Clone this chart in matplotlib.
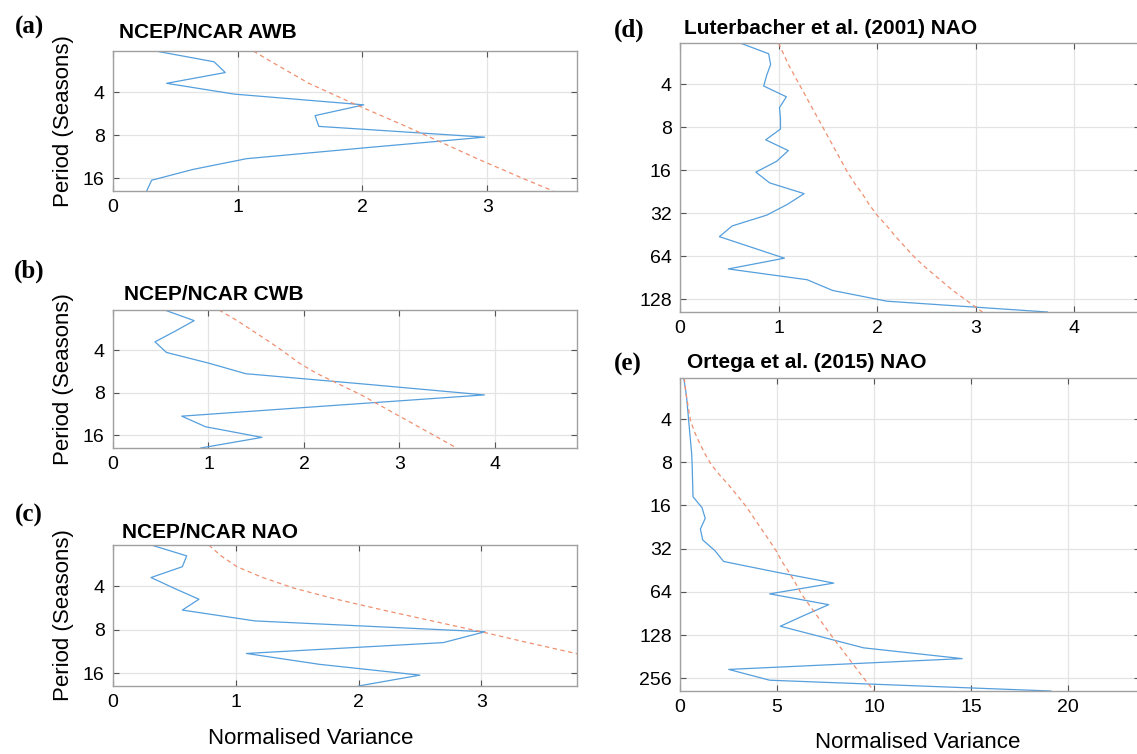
import matplotlib
matplotlib.use("Agg")
import matplotlib.pyplot as plt
from matplotlib.ticker import NullLocator

plt.rcParams['font.family'] = ['Liberation Sans', 'DejaVu Sans']

W, H = 1137, 754

# Fourier periods (seasons) of the wavelet scales, quarter-octave spacing
periods = [2.066, 2.457, 2.922, 3.475, 4.132, 4.914, 5.844, 6.950, 8.264, 9.828,
           11.69, 13.90, 16.53, 19.66, 23.38, 27.80, 33.06, 39.31, 46.75, 55.60,
           66.12, 78.63, 93.51, 111.2, 132.2, 157.3, 187.0, 222.4, 264.5, 314.5]

# global wavelet power (blue) and 95% significance level (red dashed)
awb_power = [0.34, 0.81, 0.90, 0.43, 0.97, 2.01, 1.62, 1.65, 2.98, 2.01, 1.07, 0.64, 0.31, 0.27]
awb_signif = [1.125, 1.27, 1.42, 1.57, 1.76, 1.95, 2.15, 2.35, 2.54, 2.73, 2.92, 3.12, 3.32, 3.53]

cwb_power = [0.54, 0.85, 0.65, 0.44, 0.56, 1.00, 1.39, 2.66, 3.89, 2.30, 0.72, 0.97, 1.56, 0.92]
cwb_signif = [1.11, 1.30, 1.47, 1.64, 1.80, 1.95, 2.14, 2.37, 2.60, 2.80, 3.00, 3.20, 3.40, 3.60]

nao_power = [0.31, 0.60, 0.565, 0.31, 0.50, 0.70, 0.565, 1.156, 3.03, 2.69, 1.087, 1.68, 2.50, 2.00]
nao_signif = [0.78, 0.88, 1.01, 1.22, 1.48, 1.82, 2.20, 2.60, 3.00, 3.38, 3.77, 4.15, 4.53, 4.90]

lut_power = [0.61, 0.90, 0.92, 0.88, 0.85, 1.08, 1.01, 1.02, 1.02, 0.87, 1.10, 0.98, 0.77,
             0.91, 1.26, 1.09, 0.88, 0.53, 0.40, 0.73, 1.06, 0.49, 1.29, 1.55, 2.10, 3.73]
lut_signif = [1.00, 1.05, 1.10, 1.16, 1.22, 1.28, 1.34, 1.40, 1.46, 1.52, 1.58, 1.64, 1.70,
              1.77, 1.85, 1.92, 2.00, 2.10, 2.19, 2.29, 2.39, 2.51, 2.64, 2.77, 2.92, 3.07]

ort_power = [0.19, 0.28, 0.35, 0.40, 0.45, 0.50, 0.55, 0.60, 0.625, 0.64, 0.655, 0.67, 1.13, 1.30, 1.05,
             1.17, 1.80, 2.25, 5.00, 7.92, 4.62, 7.66, 6.39, 5.17, 7.32, 9.46, 14.54, 2.51, 4.62, 19.1]
ort_signif = [0.22, 0.28, 0.36, 0.45, 0.55, 0.75, 1.00, 1.28, 1.60, 2.05, 2.55, 3.00, 3.45, 3.82, 4.20,
              4.58, 4.95, 5.25, 5.62, 5.95, 6.25, 6.65, 7.05, 7.45, 7.85, 8.28, 8.70, 9.12, 9.55, 10.0]

titles = ['NCEP/NCAR AWB', 'NCEP/NCAR CWB', 'NCEP/NCAR NAO',
          'Luterbacher et al. (2001) NAO', 'Ortega et al. (2015) NAO']
letters = ['(a)', '(b)', '(c)', '(d)', '(e)']
xlabel = 'Normalised Variance'
ylabel = 'Period (Seasons)'

blue = '#559fdd'
red = '#ef9070'

fig = plt.figure(figsize=(W / 100, H / 100), dpi=100)


def px(x, y):
    return x / W, 1 - y / H


def panel(box, power, signif, xmax, xticks, yticks):
    l, t, r, b = box
    ax = fig.add_axes([l / W, 1 - b / H, (r - l) / W, (b - t) / H])
    n = len(power)
    per = periods[:n]
    ax.plot(power, per, color=blue, lw=0.9)
    ax.plot(signif, per, color=red, lw=0.9, ls=(0, (3.5, 2.8)))
    ax.set_yscale('log', base=2)
    ax.set_ylim(per[-1], per[0])
    ax.set_xlim(0, xmax)
    ax.set_yticks(yticks)
    ax.set_yticklabels([str(v) for v in yticks])
    ax.yaxis.set_minor_locator(NullLocator())
    ax.set_xticks(xticks)
    ax.set_xticklabels([str(v) for v in xticks])
    ax.grid(True, color='#e4e4e4', lw=0.9)
    ax.set_axisbelow(True)
    ax.tick_params(direction='in', length=4, width=0.8, color='#555555',
                   top=True, right=True, labelsize=14, pad=6)
    for s in ax.spines.values():
        s.set_color('#a0a0a0')
        s.set_linewidth(1.0)
    return ax


panel((113, 51, 577, 191), awb_power, awb_signif, 3.72, [0, 1, 2, 3], [4, 8, 16])
panel((113, 310, 577, 448), cwb_power, cwb_signif, 4.86, [0, 1, 2, 3, 4], [4, 8, 16])
panel((113, 545, 577, 686), nao_power, nao_signif, 3.78, [0, 1, 2, 3], [4, 8, 16])
panel((680, 43, 1140, 312), lut_power, lut_signif, 4.67, [0, 1, 2, 3, 4], [4, 8, 16, 32, 64, 128])
panel((680, 378, 1140, 691), ort_power, ort_signif, 23.7, [0, 5, 10, 15, 20],
      [4, 8, 16, 32, 64, 128, 256])

# panel letters and titles
letter_pos = [(29, 27), (29, 271), (29, 515), (629, 30), (628, 364)]
title_pos = [(119, 32), (124, 295), (122, 532), (684, 29), (687, 363)]
for s, (x, y) in zip(letters, letter_pos):
    fig.text(*px(x, y), s, family=['Liberation Serif', 'DejaVu Serif'], weight='bold',
             fontsize=18, ha='center', va='center')
for s, (x, y) in zip(titles, title_pos):
    fig.text(*px(x, y), s, weight='bold', fontsize=15, ha='left', va='center')

for y in [121, 379, 615]:
    fig.text(*px(63, y), ylabel, rotation=90, fontsize=16, ha='center', va='center')

fig.text(*px(311, 738), xlabel, fontsize=16, ha='center', va='center')
fig.text(*px(918, 742), xlabel, fontsize=16, ha='center', va='center')

fig.savefig('out.png', dpi=100)
